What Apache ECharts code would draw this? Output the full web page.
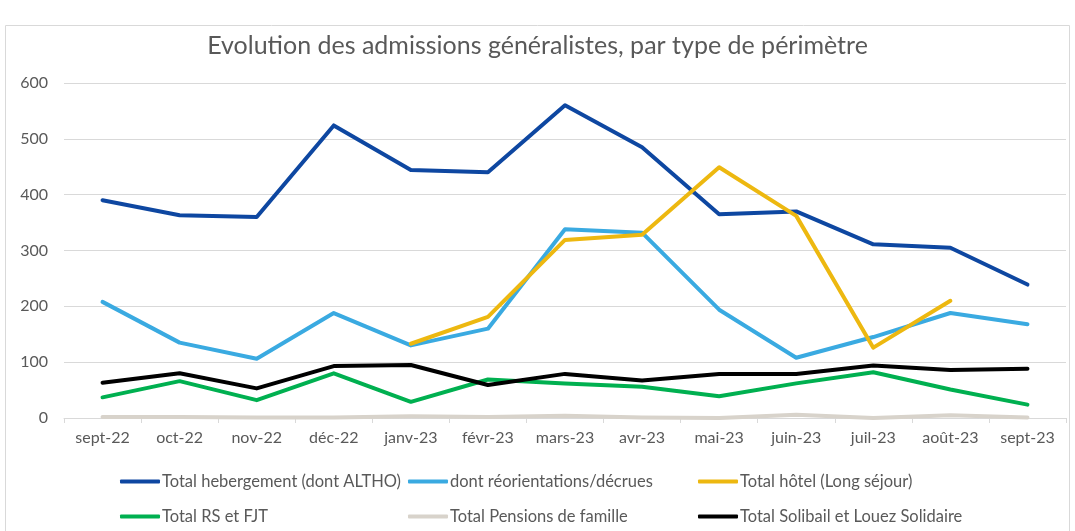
<!DOCTYPE html>
<html><head><meta charset="utf-8">
<script src="https://cdn.jsdelivr.net/npm/echarts@6/dist/echarts.min.js"></script>
<style>html,body{margin:0;padding:0;background:#fff}#c{width:1075px;height:531px}</style>
</head><body><div id="c"></div>
<script>
const categories = ['sept-22','oct-22','nov-22','déc-22','janv-23','févr-23','mars-23','avr-23','mai-23','juin-23','juil-23','août-23','sept-23'];
const yTicks = [0,100,200,300,400,500,600];
const hebergement = [390,363,360,524,444,440,560,485,365,370,311,305,239];
const reorientations = [208,135,106,188,130,160,338,332,194,108,145,188,168];
const hotel = [null,null,null,null,133,181,319,328,449,362,126,210,null];
const rsFjt = [37,66,32,80,29,69,62,56,39,62,82,51,24];
const pensions = [2,2,1,1,3,2,4,1,0,6,0,5,1];
const solibail = [63,80,53,93,95,59,79,67,79,79,94,86,88];

const names = ['Total hebergement (dont ALTHO)','dont réorientations/décrues','Total hôtel (Long séjour)','Total RS et FJT','Total Pensions de famille','Total Solibail et Louez Solidaire'];
const colors = ['#0E47A1','#3AAAE1','#EDB810','#00B050','#D8D3CB','#000000'];
const datas = [hebergement,reorientations,hotel,rsFjt,pensions,solibail];
const FONT = 'Lato, "Open Sans", sans-serif';

const legendPos = [[120,473],[408,473],[698,473],[120,508],[408,508],[698,508]];
const legends = names.map((n,i)=>({
  data:[n], left:legendPos[i][0], top:legendPos[i][1], padding:0, itemWidth:40, itemHeight:4, icon:'roundRect', itemGap:0,
  textStyle:{color:'#595959', fontSize:16.5, fontFamily:FONT, padding:[0,0,0,-3]}
}));

const chart = echarts.init(document.getElementById('c'));
chart.setOption({
  animation:false,
  color: colors,
  title:{text:'Evolution des admissions généralistes, par type de périmètre', left:'center', top:28,
    textStyle:{color:'#595959', fontSize:25, fontWeight:'normal', fontFamily:FONT}},
  graphic:[{type:'rect', shape:{x:5.5,y:25.5,width:1064,height:520}, style:{fill:'none', stroke:'#D9D9D9', lineWidth:1}}],
  legend: legends,
  grid:{left:64, right:9, top:83, bottom:113},
  xAxis:{type:'category', data:categories, boundaryGap:true,
    axisLine:{lineStyle:{color:'#D9D9D9', width:1}},
    axisTick:{show:true, length:5, alignWithLabel:false, lineStyle:{color:'#D9D9D9'}},
    axisLabel:{color:'#595959', fontSize:16, fontFamily:FONT, margin:12}},
  yAxis:{type:'value', min:yTicks[0], max:yTicks[yTicks.length-1], interval:100,
    axisLine:{show:false}, axisTick:{show:false},
    splitLine:{lineStyle:{color:'#D9D9D9', width:1}},
    axisLabel:{color:'#595959', fontSize:16, fontFamily:FONT, margin:16}},
  series: names.map((n,i)=>({
    name:n, type:'line', data:datas[i], showSymbol:false, symbol:'none', connectNulls:false,
    lineStyle:{width:4, color:colors[i], cap:'round', join:'round'}, itemStyle:{color:colors[i]}
  }))
});
</script></body></html>
